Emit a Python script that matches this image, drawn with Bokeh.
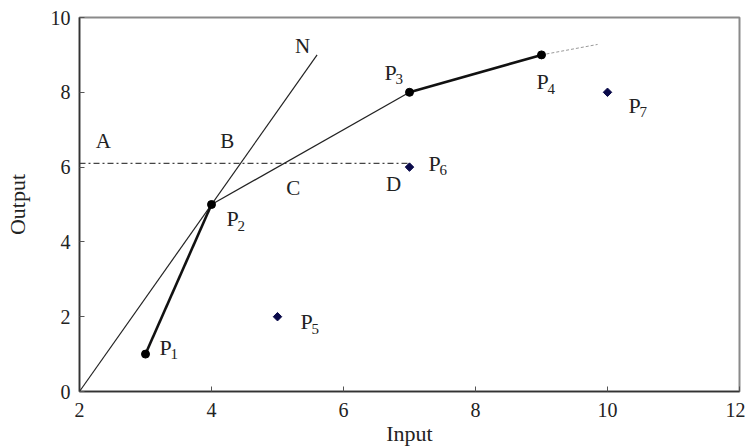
import math
from bokeh.plotting import figure
from bokeh.models import Range1d, FixedTicker, Label, ColumnDataSource
from bokeh.core.properties import value
from bokeh.embed import file_html
from bokeh.resources import INLINE

FONT = "Liberation Serif"

# Frontier points P1..P4
front_x = [3, 4, 7, 9]
front_y = [1, 5, 8, 9]
front_names = ["1", "2", "3", "4"]
# Other DMUs P5..P7
other_x = [5, 7, 10]
other_y = [2, 6, 8]
other_names = ["5", "6", "7"]
# Ray M -> N
ray_x = [2, 5.6]
ray_y = [0, 9.0]
# Extension of frontier beyond P4
ext_x = [9, 9.85]
ext_y = [9, 9.28]
# Horizontal dash-dot line
hline_x = [2, 7]
hline_y = [6.1, 6.1]
# Letter labels
letters = ["A", "B", "C", "D", "N"]
letter_x = [2.36, 4.24, 5.24, 6.76, 5.38]
letter_y = [6.71, 6.71, 5.43, 5.56, 9.25]
m_label = "M"
m_x, m_y = 1.74, 0.51

x_ticks = [2, 4, 6, 8, 10, 12]
y_ticks = [0, 2, 4, 6, 8, 10]

p = figure(width=745, height=448, output_backend="svg", toolbar_location=None,
           x_range=Range1d(2, 12), y_range=Range1d(0, 10),
           min_border_left=79, min_border_right=6, min_border_top=17, min_border_bottom=57)
p.background_fill_color = "white"
p.border_fill_color = "white"
p.grid.visible = False
p.outline_line_color = "#8a8a8a"
p.outline_line_width = 2

p.xaxis.ticker = FixedTicker(ticks=x_ticks)
p.yaxis.ticker = FixedTicker(ticks=y_ticks)
for ax in (p.xaxis[0], p.yaxis[0]):
    ax.major_tick_in = 5
    ax.major_tick_out = 0
    ax.minor_tick_line_color = None
    ax.axis_line_color = "#333333"
    ax.axis_line_width = 1.5
    ax.major_tick_line_color = "#555555"
    ax.major_label_text_font = FONT
    ax.major_label_text_font_size = "20px"
    ax.major_label_text_color = "#222222"
    ax.axis_label_text_font = FONT
    ax.axis_label_text_font_size = "22px"
    ax.axis_label_text_font_style = "normal"
    ax.axis_label_text_color = "#222222"
p.xaxis.axis_label = "Input"
p.yaxis.axis_label = "Output"
p.xaxis.major_label_standoff = 11
p.yaxis.major_label_standoff = 9
p.xaxis.axis_label_standoff = 1
p.yaxis.axis_label_standoff = 18

# Lines
p.line(ray_x, ray_y, line_color="#222222", line_width=1.2)
p.line(hline_x, hline_y, line_color="#444444", line_width=1.2, line_dash="6 3 2 3")
p.line(front_x[0:2], front_y[0:2], line_color="#111111", line_width=2.6)
p.line(front_x[1:3], front_y[1:3], line_color="#222222", line_width=1.3)
p.line(front_x[2:4], front_y[2:4], line_color="#111111", line_width=2.6)
p.line(ext_x, ext_y, line_color="#999999", line_width=1, line_dash="3 2")

# Points
p.scatter(front_x, front_y, marker="circle", size=8, fill_color="black", line_color="black")
p.scatter(other_x, other_y, marker="square", size=6, angle=math.pi / 4,
          fill_color="#0a0a4a", line_color="#0a0a4a")

# P labels (P + subscript)
all_x = front_x + other_x
all_y = front_y + other_y
all_names = front_names + other_names
p_dx = [20, 21, -19, 1, 29, 25, 27]
p_dy = [-7, 14, -20, 27, 5, -4, 13]
src = ColumnDataSource(dict(x=all_x, y=all_y, P=["P"] * len(all_x), sub=all_names,
                            pdx=p_dx, pdy=p_dy,
                            sdx=[d + 5 for d in p_dx], sdy=[d + 7 for d in p_dy]))
p.text(x="x", y="y", text="P", x_offset="pdx", y_offset="pdy", source=src,
       text_font=value(FONT), text_font_size="22px", text_align="center",
       text_baseline="middle", text_color="#222222")
p.text(x="x", y="y", text="sub", x_offset="sdx", y_offset="sdy", source=src,
       text_font=value(FONT), text_font_size="15px", text_align="left",
       text_baseline="middle", text_color="#222222")

# Letters
p.text(x=letter_x, y=letter_y, text=letters, text_font=value(FONT), text_font_size="21px",
       text_align="center", text_baseline="middle", text_color="#222222")
p.add_layout(Label(x=m_x, y=m_y, text=m_label, text_font=FONT, text_font_size="21px",
                   text_align="center", text_baseline="middle", text_color="#222222"))

open("out.html", "w").write(file_html(p, INLINE))
